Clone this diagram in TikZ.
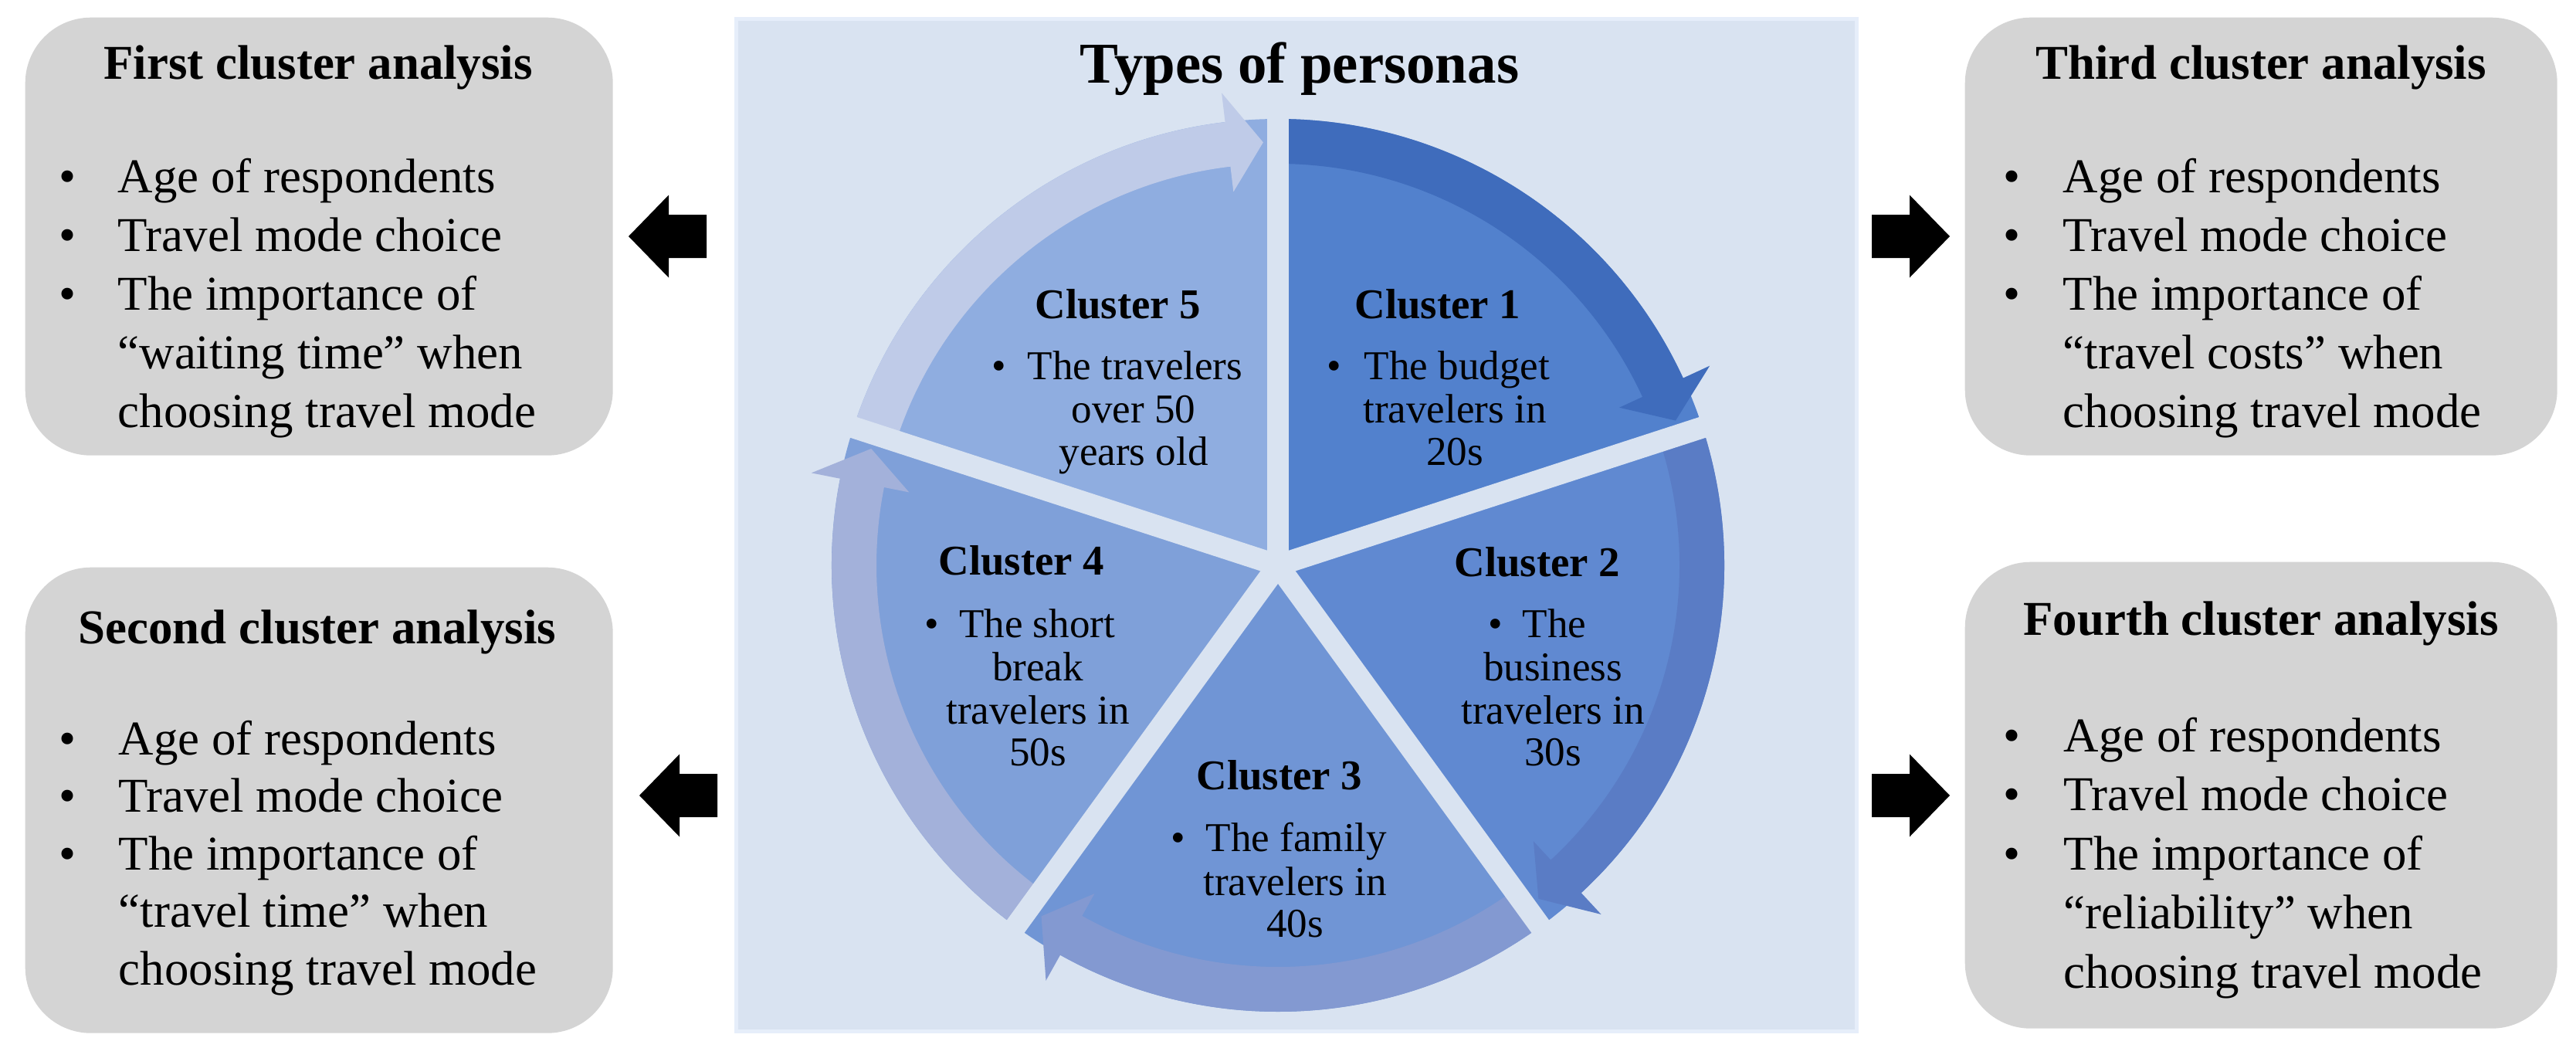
\documentclass[tikz,border=0pt]{standalone}
\usepackage{fontspec}
\setmainfont{Liberation Serif}
\usetikzlibrary{calc}
\definecolor{panelbg}{HTML}{D9E3F1}
\definecolor{panelrim}{HTML}{E6EEFA}
\definecolor{boxgray}{HTML}{D4D4D4}
\definecolor{wA}{HTML}{5281CD}
\definecolor{bA}{HTML}{3F6CBC}
\definecolor{wB}{HTML}{6089D1}
\definecolor{bB}{HTML}{5A7CC5}
\definecolor{wC}{HTML}{7095D5}
\definecolor{bC}{HTML}{8399D1}
\definecolor{wD}{HTML}{7FA0D9}
\definecolor{bD}{HTML}{A3B1DA}
\definecolor{wE}{HTML}{8FADE0}
\definecolor{bE}{HTML}{BFCBE8}
\newcommand{\blockarrowL}[1]{\fill[black] (#1) -- ++(0.52,0.535) -- ++(0,-0.255) -- ++(0.49,0) -- ++(0,-0.56) -- ++(-0.49,0) -- ++(0,-0.255) -- cycle;}
\newcommand{\blockarrowR}[1]{\fill[black] (#1) -- ++(-0.52,0.535) -- ++(0,-0.255) -- ++(-0.49,0) -- ++(0,-0.56) -- ++(0.49,0) -- ++(0,-0.255) -- cycle;}
\tikzset{
  graybox/.style={fill=boxgray, draw=none, rounded corners=0.85cm, inner sep=0pt, anchor=north west},
  panelbox/.style={fill=panelbg, draw=panelrim, line width=0.05cm, inner sep=0pt, anchor=north west},
  btitle/.style={font=\fontsize{17.9}{21.6}\selectfont\bfseries, anchor=base, inner sep=0pt},
  btext/.style={font=\fontsize{17.9}{21.6}\selectfont, anchor=base west, inner sep=0pt},
  bbul/.style={font=\fontsize{17.9}{21.6}\selectfont, anchor=base, inner sep=0pt},
  ptitle/.style={font=\fontsize{21.3}{25}\selectfont\bfseries, anchor=base, inner sep=0pt},
  ctitle/.style={font=\fontsize{15.6}{17}\selectfont\bfseries, anchor=base, inner sep=0pt},
  ctext/.style={font=\fontsize{15.1}{16}\selectfont, anchor=base, inner sep=0pt},
  gapline/.style={draw=panelbg, line width=0.28cm},
}
\begin{document}
\begin{tikzpicture}[x=1cm,y=1cm]
\useasboundingbox (0,0) rectangle (33.36,-13.56);
\fill[white] (0,0) rectangle (33.36,-13.56);

% gray boxes
\node[graybox, minimum width=7.61cm, minimum height=5.67cm] (box1) at (0.32,-0.22) {};
\node[graybox, minimum width=7.61cm, minimum height=6.03cm] (box2) at (0.32,-7.34) {};
\node[graybox, minimum width=7.67cm, minimum height=5.67cm] (box3) at (25.44,-0.22) {};
\node[graybox, minimum width=7.67cm, minimum height=6.04cm] (box4) at (25.44,-7.27) {};

% central panel
\node[panelbox, minimum width=14.51cm, minimum height=13.11cm] (panel) at (9.51,-0.22) {};
\node[ptitle] (ptitle) at (16.83,-1.07) {Types of personas};

% block arrows
\coordinate (a1) at (8.14,-3.06);
\coordinate (a2) at (8.28,-10.30);
\coordinate (a3) at (25.25,-3.06);
\coordinate (a4) at (25.25,-10.30);
\blockarrowL{a1}
\blockarrowL{a2}
\blockarrowR{a3}
\blockarrowR{a4}

% pie
\coordinate (C) at (16.55,-7.32);
\foreach \k/\wc in {1/wA, 2/wB, 3/wC, 4/wD, 5/wE} {
  \pgfmathsetmacro\a{90-72*(\k-1)}
  \pgfmathsetmacro\b{\a-72}
  \fill[\wc] (C) -- ($(C)+(\a:5.78)$) arc[start angle=\a, end angle=\b, radius=5.78] -- cycle;
}
\foreach \k/\bc in {1/bA, 2/bB, 3/bC, 4/bD, 5/bE} {
  \pgfmathsetmacro\a{90-72*(\k-1)}
  \pgfmathsetmacro\b{\a-72}
  \pgfmathsetmacro\h{\b+6.8}
  \pgfmathsetmacro\t{\b+2}
  \fill[\bc] ($(C)+(\a:5.78)$) arc[start angle=\a, end angle=\h, radius=5.78]
    -- ($(C)+(\h:6.16)$) -- ($(C)+(\t:5.48)$) -- ($(C)+(\h:4.87)$)
    -- ($(C)+(\h:5.20)$) arc[start angle=\h, end angle=\a, radius=5.20] -- cycle;
}
\foreach \g in {90,18,-54,-126,162} {
  \draw[gapline] (C) -- ($(C)+(\g:6.0)$);
}

% cluster texts
\node[ctitle] (c1t) at (18.62,-4.125) {Cluster 1};
\node[ctext] (c1b) at (17.28,-4.91) {\textbullet};
\node[ctext] (c1l1) at (18.87,-4.91) {The budget};
\node[ctext] (c1l2) at (18.84,-5.47) {travelers in};
\node[ctext] (c1l3) at (18.84,-6.02) {20s};

\node[ctitle] (c2t) at (19.91,-7.46) {Cluster 2};
\node[ctext] (c2b) at (19.37,-8.25) {\textbullet};
\node[ctext] (c2l1) at (20.13,-8.25) {The};
\node[ctext] (c2l2) at (20.11,-8.81) {business};
\node[ctext] (c2l3) at (20.11,-9.37) {travelers in};
\node[ctext] (c2l4) at (20.11,-9.91) {30s};

\node[ctitle] (c3t) at (16.57,-10.22) {Cluster 3};
\node[ctext] (c3b) at (15.26,-11.02) {\textbullet};
\node[ctext] (c3l1) at (16.79,-11.02) {The family};
\node[ctext] (c3l2) at (16.77,-11.59) {travelers in};
\node[ctext] (c3l3) at (16.77,-12.13) {40s};

\node[ctitle] (c4t) at (13.23,-7.44) {Cluster 4};
\node[ctext] (c4b) at (12.07,-8.25) {\textbullet};
\node[ctext] (c4l1) at (13.43,-8.25) {The short};
\node[ctext] (c4l2) at (13.44,-8.81) {break};
\node[ctext] (c4l3) at (13.44,-9.37) {travelers in};
\node[ctext] (c4l4) at (13.44,-9.91) {50s};

\node[ctitle] (c5t) at (14.48,-4.125) {Cluster 5};
\node[ctext] (c5b) at (12.94,-4.91) {\textbullet};
\node[ctext] (c5l1) at (14.70,-4.91) {The travelers};
\node[ctext] (c5l2) at (14.68,-5.47) {over 50};
\node[ctext] (c5l3) at (14.68,-6.02) {years old};

% box 1
\node[btitle] (b1t) at (4.12,-1.02) {First cluster analysis};
\node[bbul] (b1u1) at (0.88,-2.49) {\textbullet};
\node[bbul] (b1u2) at (0.88,-3.25) {\textbullet};
\node[bbul] (b1u3) at (0.88,-4.01) {\textbullet};
\node[btext] (b1l1) at (1.52,-2.49) {Age of respondents};
\node[btext] (b1l2) at (1.52,-3.25) {Travel mode choice};
\node[btext] (b1l3) at (1.52,-4.01) {The importance of};
\node[btext] (b1l4) at (1.52,-4.77) {“waiting time” when};
\node[btext] (b1l5) at (1.52,-5.53) {choosing travel mode};

% box 2
\node[btitle] (b2t) at (4.11,-8.33) {Second cluster analysis};
\node[bbul] (b2u1) at (0.88,-9.77) {\textbullet};
\node[bbul] (b2u2) at (0.88,-10.515) {\textbullet};
\node[bbul] (b2u3) at (0.88,-11.26) {\textbullet};
\node[btext] (b2l1) at (1.53,-9.77) {Age of respondents};
\node[btext] (b2l2) at (1.53,-10.515) {Travel mode choice};
\node[btext] (b2l3) at (1.53,-11.26) {The importance of};
\node[btext] (b2l4) at (1.53,-12.005) {“travel time” when};
\node[btext] (b2l5) at (1.53,-12.75) {choosing travel mode};

% box 3
\node[btitle] (b3t) at (29.28,-1.02) {Third cluster analysis};
\node[bbul] (b3u1) at (26.05,-2.49) {\textbullet};
\node[bbul] (b3u2) at (26.05,-3.25) {\textbullet};
\node[bbul] (b3u3) at (26.05,-4.01) {\textbullet};
\node[btext] (b3l1) at (26.71,-2.49) {Age of respondents};
\node[btext] (b3l2) at (26.71,-3.25) {Travel mode choice};
\node[btext] (b3l3) at (26.71,-4.01) {The importance of};
\node[btext] (b3l4) at (26.71,-4.77) {“travel costs” when};
\node[btext] (b3l5) at (26.71,-5.53) {choosing travel mode};

% box 4
\node[btitle] (b4t) at (29.28,-8.22) {Fourth cluster analysis};
\node[bbul] (b4u1) at (26.05,-9.73) {\textbullet};
\node[bbul] (b4u2) at (26.05,-10.495) {\textbullet};
\node[bbul] (b4u3) at (26.05,-11.26) {\textbullet};
\node[btext] (b4l1) at (26.72,-9.73) {Age of respondents};
\node[btext] (b4l2) at (26.72,-10.495) {Travel mode choice};
\node[btext] (b4l3) at (26.72,-11.26) {The importance of};
\node[btext] (b4l4) at (26.72,-12.025) {“reliability” when};
\node[btext] (b4l5) at (26.72,-12.79) {choosing travel mode};
\end{tikzpicture}
\end{document}
